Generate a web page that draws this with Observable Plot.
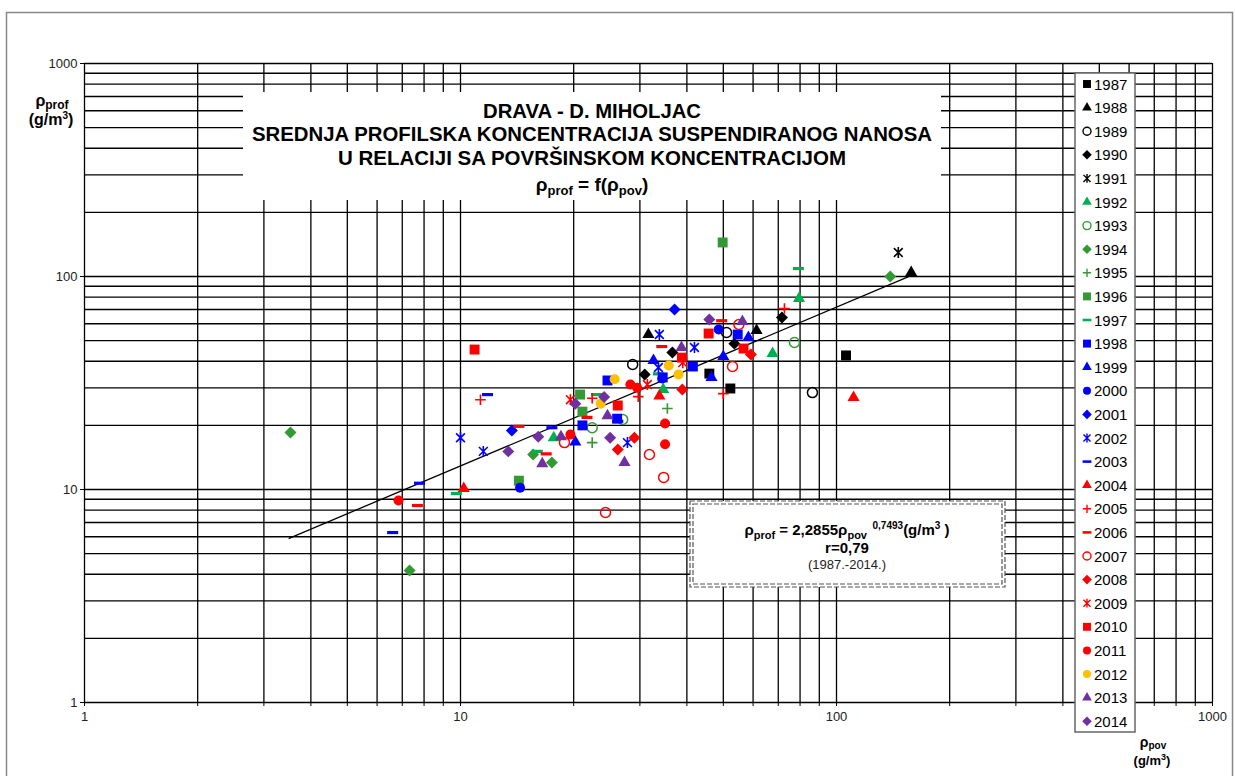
<!DOCTYPE html>
<html><head><meta charset="utf-8">
<script src="https://cdn.jsdelivr.net/npm/d3@7"></script>
<script src="https://cdn.jsdelivr.net/npm/@observablehq/plot@0.6"></script>
<style>
body{margin:0;background:#fff;}
#chart{position:relative;width:1235px;height:776px;overflow:hidden;}
svg{font-family:"Liberation Sans",Arial,sans-serif;}
</style>
</head><body><div id="chart"></div>
<script>
// ---- data (x = rho_pov, y = rho_prof, g/m3) ----
const years = [1987,1988,1989,1990,1991,1992,1993,1994,1995,1996,1997,1998,1999,2000,2001,2002,2003,2004,2005,2006,2007,2008,2009,2010,2011,2012,2013,2014];
const p1987 = [[45.9,35.0],[52.2,29.8],[106,42.6]];
const p1988 = [[31.6,53.4],[61.3,55.8],[158,104.5]];
const p1989 = [[28.7,38.6],[51,54.6],[86.3,28.5]];
const p1990 = [[30.9,34.7],[36.6,44],[53.5,48.4],[71.6,64.2]];
const p1991 = [[146,129.6]];
const p1992 = [[79.5,78.8],[67.6,43.5],[17.7,17.5],[34.6,29.5]];
const p1993 = [[77.3,49],[22.4,19.5],[27,21.3]];
const p1994 = [[139,100],[3.53,18.5],[7.32,4.17],[15.6,14.6],[17.5,13.4]];
const p1995 = [[35.5,24],[22.4,16.6]];
const p1996 = [[49.8,144.5],[14.3,11],[20.8,27.9],[21.1,23.2]];
const p1997 = [[79.2,109],[9.75,9.58],[16,15.1],[23,27.9],[33.6,34.9]];
const p1998 = [[24.6,32.5],[41.5,37.8],[54.6,53.4],[21.1,20],[26.1,21.5],[34.5,33.6]];
const p1999 = [[58.3,51.7],[50,42.1],[46.5,33.6],[32.6,40.3],[20.2,16.7]];
const p2000 = [[48.6,56.4],[14.4,10.2],[34.4,33.2]];
const p2001 = [[37.1,70],[13.7,18.9]];
const p2002 = [[33.8,53.4],[41.9,46.4],[10,17.5],[11.5,15.1],[27.8,16.6],[33.6,37.4]];
const p2003 = [[11.8,27.9],[7.78,10.7],[6.6,6.28],[17.5,19.5],[26.2,20.9]];
const p2004 = [[111,27],[10.2,10.1],[33.8,27.5]];
const p2005 = [[72.7,70.7],[50,28.2],[11.3,26.4],[22.4,26.8],[29.7,27.3]];
const p2006 = [[49.5,62],[34.3,46.9],[14.3,19.8],[16.9,14.7],[7.68,8.41],[21.7,21.8]];
const p2007 = [[55,59.5],[52.9,37.8],[24.3,7.8],[31.8,14.6],[34.7,11.4],[18.9,16.6]];
const p2008 = [[59.2,43],[38.9,29.5],[26.2,15.4],[29,17.5]];
const p2009 = [[19.6,26.4],[31.4,31.1],[39,39.4]];
const p2010 = [[10.9,45.4],[45.7,54],[56.6,45.9],[26.2,24.8],[38.8,41.6]];
const p2011 = [[6.84,8.88],[19.6,18.1],[28.3,31.1],[29.5,30],[35,16.3],[35,20.4]];
const p2012 = [[25.7,32.9],[35.8,38.2],[38,34.7],[23.6,25.3]];
const p2013 = [[56.2,61.5],[38.7,46.4],[16.5,13.2],[18.5,17.7],[27.3,13.4],[24.6,22.2]];
const p2014 = [[45.9,62.8],[20.2,25.3],[24.1,27.2],[13.4,15.1],[16.1,17.7],[25,17.5]];
const series = [p1987,p1988,p1989,p1990,p1991,p1992,p1993,p1994,p1995,p1996,p1997,p1998,p1999,p2000,p2001,p2002,p2003,p2004,p2005,p2006,p2007,p2008,p2009,p2010,p2011,p2012,p2013,p2014];
// regression line end points
const trendX = [3.5, 155];
const trendY = [5.9, 99.5];
const majorTicks = [1,10,100,1000];
const minorMult = [1,2,3,4,5,6,7,8,9];

// ---- styles ----
const BLACK="#000000", G1="#00b050", G2="#339933", BLUE="#0000ff", RED="#ff0000", YEL="#ffc000", PUR="#7030a0";
const dash = {draw(ctx, size){const r=Math.sqrt(size/Math.PI); ctx.rect(-r*1.1,-r*0.32,r*2.2,r*0.64);}};
const excelStar = {draw(ctx, size){const r=Math.sqrt(size/Math.PI);
  ctx.moveTo(0,-r);ctx.lineTo(0,r);ctx.moveTo(-r*0.8,-r*0.8);ctx.lineTo(r*0.8,r*0.8);ctx.moveTo(r*0.8,-r*0.8);ctx.lineTo(-r*0.8,r*0.8);}};
const styles = [
 {s:"square",c:BLACK},{s:"triangle",c:BLACK},{s:"circle",c:BLACK,open:true},{s:"diamond2",c:BLACK},{s:excelStar,c:BLACK,line:true},
 {s:"triangle",c:G1},{s:"circle",c:G2,open:true},{s:"diamond2",c:G2},{s:"plus",c:G2,line:true},{s:"square",c:G2},{s:dash,c:G1},
 {s:"square",c:BLUE},{s:"triangle",c:BLUE},{s:"circle",c:BLUE},{s:"diamond2",c:BLUE},{s:excelStar,c:BLUE,line:true},{s:dash,c:BLUE},
 {s:"triangle",c:RED},{s:"plus",c:RED,line:true},{s:dash,c:RED},{s:"circle",c:RED,open:true},{s:"diamond2",c:RED},{s:excelStar,c:RED,line:true},{s:"square",c:RED},{s:"circle",c:RED},
 {s:"circle",c:YEL},{s:"triangle",c:PUR},{s:"diamond2",c:PUR}
];
function rFor(st){
  if(st.s===dash) return 5;
  if(st.s===excelStar) return 5.5;
  switch(st.s){case "square":return 5.6;case "triangle":return 4.5;case "circle":return 5;case "diamond2":return 5.4;case "plus":return 3.5;}
  return 5;
}

const gridVals = [];
for(const m of majorTicks.slice(0,3)) for(const k of minorMult) gridVals.push(m*k);
gridVals.push(1000);

const marks = [
  Plot.ruleX(gridVals,{stroke:"#000",strokeWidth:1.3}),
  Plot.ruleY(gridVals,{stroke:"#000",strokeWidth:1.3}),
  Plot.axisX(gridVals,{tickSize:4,tickPadding:5,fontSize:13,fill:"#222",tickFormat:d=>majorTicks.includes(d)?String(d):"",label:null}),
  Plot.axisY(majorTicks,{tickSize:4,tickPadding:3,fontSize:13,fill:"#222",tickFormat:d=>String(d),label:null}),
  Plot.line(trendX.map((x,i)=>({x,y:trendY[i]})),{x:"x",y:"y",stroke:"#000",strokeWidth:1.3})
];
series.forEach((pts,i)=>{
  const st = styles[i];
  const data = pts.map(([x,y])=>({x,y}));
  const opts = {x:"x",y:"y",symbol:st.s,r:rFor(st)};
  if(st.open){opts.fill="none";opts.stroke=st.c;opts.strokeWidth=1.5;}
  else if(st.line){opts.fill="none";opts.stroke=st.c;opts.strokeWidth=1.6;}
  else {opts.fill=st.c;opts.stroke="none";}
  marks.push(Plot.dot(data,opts));
});

const plot = Plot.plot({
  width:1235,height:776,
  marginLeft:84,marginRight:23,marginTop:63,marginBottom:74,
  x:{type:"log",domain:[1,1000]},
  y:{type:"log",domain:[1,1000]},
  style:{fontFamily:"Liberation Sans, Arial, sans-serif",background:"#fff",overflow:"visible"},
  marks
});
document.getElementById("chart").appendChild(plot);

// ---- overlays: frame, title box, equation box, legend, axis titles ----
const svg = d3.select(plot);
const ov = svg.append("g").attr("font-family","Liberation Sans, Arial, sans-serif").attr("text-anchor","start");
ov.append("rect").attr("x",6.5).attr("y",12.5).attr("width",1226).attr("height",800).attr("fill","none").attr("stroke","#888").attr("stroke-width",1.5);

// title box
ov.append("rect").attr("x",243).attr("y",92).attr("width",698).attr("height",108).attr("fill","#fff");
const tt = ov.append("g").attr("font-weight","bold").attr("text-anchor","middle").attr("fill","#000");
const titleLines = ["DRAVA - D. MIHOLJAC","SREDNJA PROFILSKA KONCENTRACIJA SUSPENDIRANOG NANOSA","U RELACIJI SA POVRŠINSKOM KONCENTRACIJOM"];
const titleLens = [218,680,508];
const titleY = [118,141,165];
titleLines.forEach((t,i)=>{
  tt.append("text").attr("x",592).attr("y",titleY[i]).attr("font-size",19.5).attr("textLength",titleLens[i]).attr("lengthAdjust","spacingAndGlyphs").text(t);
});
const t4 = tt.append("text").attr("x",592).attr("y",191).attr("font-size",19);
t4.append("tspan").text("ρ");
t4.append("tspan").attr("font-size",13).attr("dy",4).text("prof");
t4.append("tspan").attr("dy",-4).text(" = f(ρ");
t4.append("tspan").attr("font-size",13).attr("dy",4).text("pov");
t4.append("tspan").attr("dy",-4).text(")");

// equation box
const eb = ov.append("g");
eb.append("rect").attr("x",690).attr("y",501).attr("width",315).attr("height",86).attr("fill","#fff").attr("stroke","#555").attr("stroke-width",1.2).attr("stroke-dasharray","5,2");
eb.append("rect").attr("x",693).attr("y",504).attr("width",309).attr("height",80).attr("fill","none").attr("stroke","#555").attr("stroke-width",1.2).attr("stroke-dasharray","5,2");
const e1 = eb.append("text").attr("x",847).attr("y",535).attr("text-anchor","middle").attr("font-weight","bold").attr("font-size",15);
e1.append("tspan").text("ρ");
e1.append("tspan").attr("font-size",11).attr("dy",4).text("prof");
e1.append("tspan").attr("dy",-4).text(" = 2,2855ρ");
e1.append("tspan").attr("font-size",11).attr("dy",4).text("pov");
e1.append("tspan").attr("font-size",10).attr("dy",-10).text("  0,7493");
e1.append("tspan").attr("dy",6).text("(g/m");
e1.append("tspan").attr("font-size",10).attr("dy",-6).text("3");
e1.append("tspan").attr("dy",6).text(" )");
eb.append("text").attr("x",847).attr("y",553).attr("text-anchor","middle").attr("font-weight","bold").attr("font-size",15).text("r=0,79");
eb.append("text").attr("x",847).attr("y",569).attr("text-anchor","middle").attr("font-size",13).attr("fill","#222").text("(1987.-2014.)");

// y axis title
const ya = ov.append("g").attr("font-weight","bold").attr("fill","#000").attr("text-anchor","middle");
const y1 = ya.append("text").attr("x",52).attr("y",106).attr("font-size",16);
y1.append("tspan").text("ρ");
y1.append("tspan").attr("font-size",12).attr("dy",3).text("prof");
const y2 = ya.append("text").attr("x",51).attr("y",125).attr("font-size",16);
y2.append("tspan").text("(g/m");
y2.append("tspan").attr("font-size",10).attr("dy",-6).text("3");
y2.append("tspan").attr("dy",6).text(")");
// x axis title
const x1 = ya.append("text").attr("x",1153).attr("y",747).attr("font-size",14);
x1.append("tspan").text("ρ");
x1.append("tspan").attr("font-size",10).attr("dy",2).text("pov");
const x2 = ya.append("text").attr("x",1152).attr("y",765).attr("font-size",13);
x2.append("tspan").text("(g/m");
x2.append("tspan").attr("font-size",9).attr("dy",-5).text("3");
x2.append("tspan").attr("dy",5).text(")");

// legend
const lg = ov.append("g").attr("text-anchor","start");
lg.append("rect").attr("x",1075).attr("y",73).attr("width",60).attr("height",659).attr("fill","#fff").attr("stroke","#666").attr("stroke-width",1.5);
const symMap = {square:d3.symbolSquare,triangle:d3.symbolTriangle,circle:d3.symbolCircle,diamond2:d3.symbolDiamond2,plus:d3.symbolPlus};
years.forEach((yr,i)=>{
  const st = styles[i];
  const cy = 84 + i*23.6;
  const type = (st.s===dash||st.s===excelStar) ? st.s : symMap[st.s];
  const rr = rFor(st)*0.8;
  const p = lg.append("path").attr("transform",`translate(1087,${cy})`).attr("d",d3.symbol(type, Math.PI*rr*rr)());
  if(st.open||st.line){p.attr("fill","none").attr("stroke",st.c).attr("stroke-width",1.4);} else p.attr("fill",st.c);
  lg.append("text").attr("x",1094).attr("y",cy+5.5).attr("font-size",15).attr("fill","#000").text(yr);
});
</script>
</body></html>
